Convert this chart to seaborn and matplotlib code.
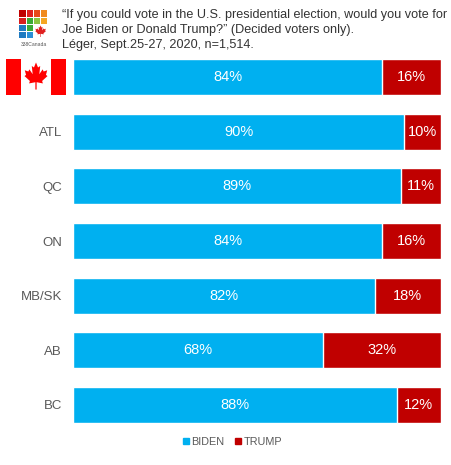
import matplotlib
matplotlib.use("Agg")
import matplotlib.pyplot as plt
import seaborn as sns
import pandas as pd
import numpy as np
from matplotlib.patches import Rectangle, Polygon
from matplotlib.lines import Line2D

regions = ["CANADA", "ATL", "QC", "ON", "MB/SK", "AB", "BC"]
tick_labels = ["", "ATL", "QC", "ON", "MB/SK", "AB", "BC"]
biden = [84, 90, 89, 84, 82, 68, 88]
trump = [16, 10, 11, 16, 18, 32, 12]
title_lines = ["\u201cIf you could vote in the U.S. presidential election, would you vote for",
               "Joe Biden or Donald Trump?\u201d (Decided voters only).",
               "L\u00e9ger, Sept.25-27, 2020, n=1,514."]

BLUE = "#00B0F0"
RED = "#C00000"
GRAY = "#595959"

sns.set_theme(style="white")
plt.rcParams['font.family'] = ['Liberation Sans', 'DejaVu Sans']

W, H = 452, 465
fig = plt.figure(figsize=(W/100, H/100), dpi=100)

def fx(px):
    return px / W
def fy(py):
    return 1 - py / H

ax = fig.add_axes([fx(73), fy(432), fx(441) - fx(73), fy(50) - fy(432)])

df = pd.DataFrame({"region": regions, "biden": biden, "trump": trump})
df["total"] = df["biden"] + df["trump"]

sns.barplot(data=df, y="region", x="total", color=RED, orient="h", width=0.66,
            ax=ax, saturation=1, order=regions)
sns.barplot(data=df, y="region", x="biden", color=BLUE, orient="h", width=0.66,
            ax=ax, saturation=1, order=regions)

ax.set_xlim(0, 100)
ax.set_ylim(6.5, -0.5)
ax.set_xlabel("")
ax.set_ylabel("")
ax.set_xticks([])
ax.set_yticks(range(len(regions)))
ax.set_yticklabels(tick_labels, color=GRAY, fontsize=9.5)
ax.tick_params(axis="y", length=0, pad=8)
for s in ax.spines.values():
    s.set_visible(False)

for i, (b, t) in enumerate(zip(biden, trump)):
    ax.text(b / 2, i, f"{b}%", ha="center", va="center", color="white", fontsize=10.5)
    ax.text(b + t / 2, i, f"{t}%", ha="center", va="center", color="white", fontsize=10.5)

# Canadian flag as the first category label
fax = fig.add_axes([fx(6), fy(95), fx(66) - fx(6), fy(59) - fy(95)])
fax.set_xlim(0, 4)
fax.set_ylim(-1, 1)
fax.axis("off")
fax.add_patch(Rectangle((0, -1), 1, 2, color="#FF0000", lw=0))
fax.add_patch(Rectangle((3, -1), 1, 2, color="#FF0000", lw=0))
half = [(0.0, 0.95), (0.16, 0.62), (0.33, 0.72), (0.26, 0.18), (0.52, 0.5),
        (0.6, 0.36), (0.88, 0.44), (0.78, 0.14), (0.9, 0.06), (0.48, -0.26),
        (0.54, -0.42), (0.05, -0.34), (0.05, -0.82)]
leaf = half + [(-x, y) for x, y in reversed(half)]
fax.add_patch(Polygon([(2 + x * 0.85, y * 0.85) for x, y in leaf], closed=True,
                      color="#FF0000", lw=0))

# 338Canada logo
gx0, gy0, cs = 19, 10, 7.2
grid = [["#C00000", "#E02020", "#E84A1A", "#F08A1E"],
        ["#D81E1E", "#3BAA35", "#8CC63F", "#F5A623"],
        ["#1F7BC1", "#3BAA35", None, None],
        ["#1F7BC1", "#2A8FD6", None, None]]
for r, row in enumerate(grid):
    for c, col in enumerate(row):
        if col is None:
            continue
        fig.patches.append(Rectangle((fx(gx0 + c * cs + 0.4), fy(gy0 + (r + 1) * cs - 0.4)),
                                     fx(cs - 0.8), fy(0) - fy(cs - 0.8),
                                     color=col, lw=0, transform=fig.transFigure))
lax = fig.add_axes([fx(gx0 + 2 * cs), fy(gy0 + 4 * cs), fx(2 * cs), fy(0) - fy(2 * cs)])
lax.set_xlim(-1.1, 1.1)
lax.set_ylim(-1.1, 1.1)
lax.axis("off")
lax.add_patch(Polygon([(x * 0.9, y) for x, y in leaf], closed=True, color="#E02020", lw=0))
fig.text(fx(33.5), fy(44), "338Canada", fontsize=3.6, color="#555555", ha="center", va="center")

# Title
for k, line in enumerate(title_lines):
    fig.text(fx(62), fy(15 + 15 * k), line, fontsize=9.1, color="#333333",
             ha="left", va="center")

# Legend
handles = [Line2D([], [], marker="s", ls="", color=BLUE, markersize=5),
           Line2D([], [], marker="s", ls="", color=RED, markersize=5)]
fig.legend(handles, ["BIDEN", "TRUMP"], loc="center", bbox_to_anchor=(fx(232), fy(442)),
           ncol=2, frameon=False, fontsize=7.8, labelcolor=GRAY, handletextpad=0.1,
           columnspacing=0.9, handlelength=0.8)

fig.savefig("out.png", dpi=100)
